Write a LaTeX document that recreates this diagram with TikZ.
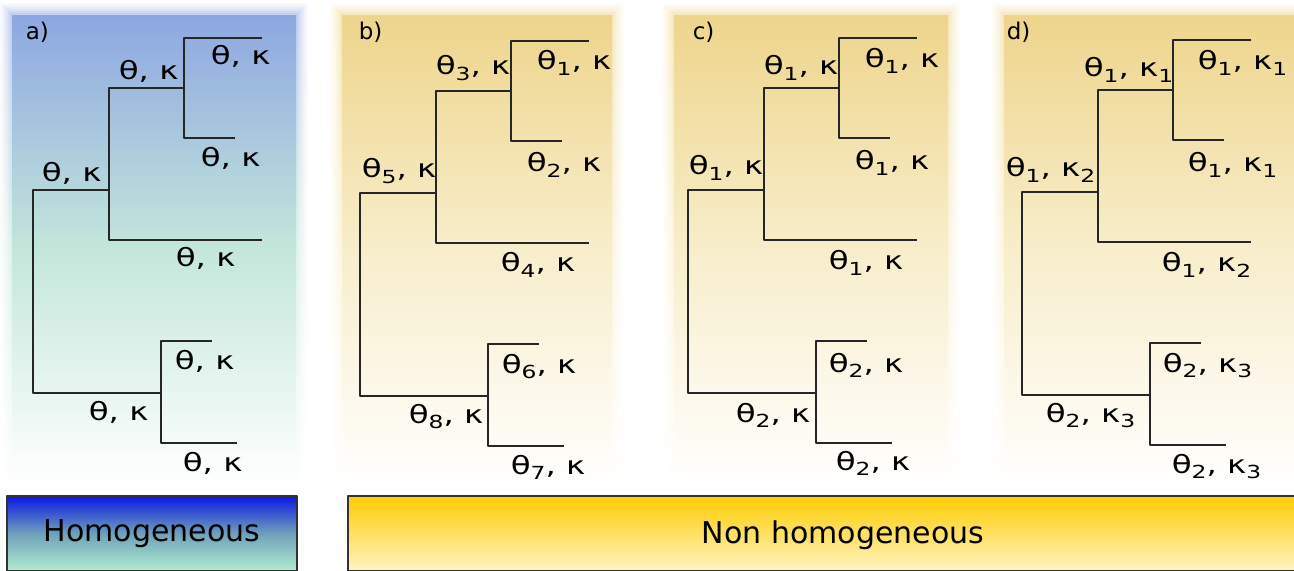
\documentclass[tikz,border=0pt]{standalone}
\usepackage{fontspec}
\setmainfont{DejaVu Sans}
\usepackage{graphicx}
\definecolor{homtop}{RGB}{141,167,225}
\definecolor{hommid}{RGB}{196,231,219}
\definecolor{nontop}{RGB}{238,213,140}
\definecolor{nonmid}{RGB}{248,238,204}
\definecolor{barblue}{RGB}{10,24,228}
\definecolor{barteal}{RGB}{112,160,186}
\definecolor{barmint}{RGB}{176,238,206}
\definecolor{baryel}{RGB}{255,204,0}
\definecolor{barpale}{RGB}{255,244,196}
\newcommand{\lo}[1]{\raisebox{-2.7pt}{\fontsize{9}{9}\selectfont #1}}
\newcommand{\wide}[1]{\scalebox{1.3}[1]{#1}}
\tikzset{
	par/.style={inner sep=0pt, anchor=base west, font=\fontsize{12.5}{14}\selectfont},
	tag/.style={inner sep=0pt, anchor=base west, font=\fontsize{11.5}{13}\selectfont},
	barlabel/.style={inner sep=0pt, anchor=base, font=\fontsize{15}{18}\selectfont},
	bar/.style={draw=black!80, line width=0.8pt},
	homfill/.style={top color=homtop, bottom color=white, middle color=hommid},
	nonfill/.style={top color=nontop, bottom color=white, middle color=nonmid}
}
\begin{document}
\begin{tikzpicture}[x=0.5pt, y=-0.5pt, line join=round, line width=0.8pt]
	\useasboundingbox (0,0) rectangle (1294,571);
	% panel backgrounds, soft edges
	\foreach \e/\o in {12/0.06, 10/0.08, 8/0.1, 6/0.12, 4/0.15, 2/0.2, 0/1}
	{
		\shade[homfill, opacity=\o] (12-\e,16-\e) rectangle (296+\e,484+\e);
		\shade[nonfill, opacity=\o] (342-\e,16-\e) rectangle (612+\e,488+\e);
		\shade[nonfill, opacity=\o] (674-\e,16-\e) rectangle (948+\e,488+\e);
		\shade[nonfill, opacity=\o] (1004-\e,16-\e) rectangle (1294+\e,488+\e);
	}
	% the same tree in every panel
	\foreach \dx/\dy in {0/0, 327/3, 655/0, 989/2}
	{
		\begin{scope}[shift={(\dx,\dy)}, black!85]
			\draw (262,38)--(184,38)--(184,138)--(235,138);
			\draw (184,88)--(109,88)--(109,240)--(262,240);
			\draw (109,190)--(33,190)--(33,393)--(161,393);
			\draw (212,341)--(161,341)--(161,443)--(237,443);
		\end{scope}
	}
	% panel tags
	\node[tag] (ta) at (25,40) {a)};
	\node[tag] (tb) at (358,40) {b)};
	\node[tag] (tc) at (692,40) {c)};
	\node[tag] (td) at (1006,40) {d)};
	% a) homogeneous
	\node[par] (a1) at (41,182) {\wide{θ, κ}};
	\node[par] (a2) at (118,80) {\wide{θ, κ}};
	\node[par] (a3) at (210,65) {\wide{θ, κ}};
	\node[par] (a4) at (200,167) {\wide{θ, κ}};
	\node[par] (a5) at (175,267) {\wide{θ, κ}};
	\node[par] (a6) at (174,369) {\wide{θ, κ}};
	\node[par] (a7) at (88,420) {\wide{θ, κ}};
	\node[par] (a8) at (182,471) {\wide{θ, κ}};
	% b)
	\node[par] (b1) at (361,178) {\wide{θ\lo{5}, κ}};
	\node[par] (b2) at (435,75) {\wide{θ\lo{3}, κ}};
	\node[par] (b3) at (536,70) {\wide{θ\lo{1}, κ}};
	\node[par] (b4) at (526,172) {\wide{θ\lo{2}, κ}};
	\node[par] (b5) at (500,272) {\wide{θ\lo{4}, κ}};
	\node[par] (b6) at (501,373) {\wide{θ\lo{6}, κ}};
	\node[par] (b7) at (408,423) {\wide{θ\lo{8}, κ}};
	\node[par] (b8) at (510,474) {\wide{θ\lo{7}, κ}};
	% c)
	\node[par] (c1) at (688,175) {\wide{θ\lo{1}, κ}};
	\node[par] (c2) at (763,75) {\wide{θ\lo{1}, κ}};
	\node[par] (c3) at (864,68) {\wide{θ\lo{1}, κ}};
	\node[par] (c4) at (854,170) {\wide{θ\lo{1}, κ}};
	\node[par] (c5) at (828,270) {\wide{θ\lo{1}, κ}};
	\node[par] (c6) at (828,372) {\wide{θ\lo{2}, κ}};
	\node[par] (c7) at (735,422) {\wide{θ\lo{2}, κ}};
	\node[par] (c8) at (835,470) {\wide{θ\lo{2}, κ}};
	% d)
	\node[par] (d1) at (1005,177) {\wide{θ\lo{1}, κ\lo{2}}};
	\node[par] (d2) at (1083,77) {\wide{θ\lo{1}, κ\lo{1}}};
	\node[par] (d3) at (1197,70) {\wide{θ\lo{1}, κ\lo{1}}};
	\node[par] (d4) at (1187,172) {\wide{θ\lo{1}, κ\lo{1}}};
	\node[par] (d5) at (1161,272) {\wide{θ\lo{1}, κ\lo{2}}};
	\node[par] (d6) at (1162,372) {\wide{θ\lo{2}, κ\lo{3}}};
	\node[par] (d7) at (1045,422) {\wide{θ\lo{2}, κ\lo{3}}};
	\node[par] (d8) at (1171,473) {\wide{θ\lo{2}, κ\lo{3}}};
	% bottom bars
	\shade[top color=barblue, bottom color=barmint, middle color=barteal] (7,496) rectangle (297,571);
	\draw[bar] (7,496) rectangle (297,571);
	\node[barlabel] (hom) at (152,541) {Homogeneous};
	\shade[top color=baryel, bottom color=barpale] (348,496) rectangle (1300,571);
	\draw[bar] (348,496) rectangle (1300,571);
	\node[barlabel] (nonhom) at (843,543) {Non homogeneous};
\end{tikzpicture}
\end{document}
